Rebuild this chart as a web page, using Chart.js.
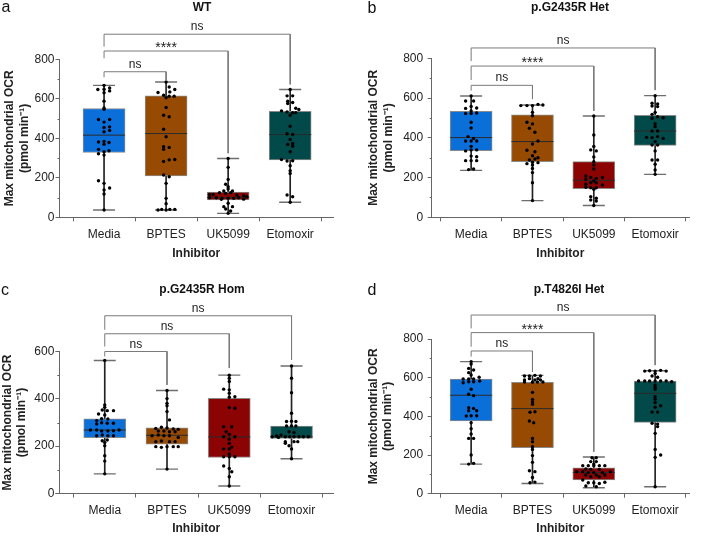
<!DOCTYPE html>
<html><head><meta charset="utf-8">
<script src="https://cdn.jsdelivr.net/npm/chart.js@4.4.1/dist/chart.umd.min.js"></script>
<style>
html,body{margin:0;padding:0;background:#fff;}
#wrap{position:relative;width:711px;height:537px;overflow:hidden;font-family:"Liberation Sans",Arial,sans-serif;}
canvas{position:absolute;}
.lbl{position:absolute;transform:translate(-50%,-50%);white-space:nowrap;line-height:1;color:#111;}
.letter{font-size:16px;}
.ttl{font-size:12px;font-weight:bold;}
</style></head><body>
<div id="wrap">
<canvas id="ca" width="355" height="268" style="left:0;top:0"></canvas>
<canvas id="cb" width="356" height="268" style="left:355px;top:0"></canvas>
<canvas id="cc" width="355" height="269" style="left:0;top:268px"></canvas>
<canvas id="cd" width="356" height="269" style="left:355px;top:268px"></canvas>
<div class="lbl letter" style="left:6px;top:7px">a</div>
<div class="lbl ttl" style="left:202px;top:7px">WT</div>
<div class="lbl letter" style="left:372px;top:8px">b</div>
<div class="lbl ttl" style="left:570px;top:7px">p.G2435R Het</div>
<div class="lbl letter" style="left:5px;top:290px">c</div>
<div class="lbl ttl" style="left:202px;top:289px">p.G2435R Hom</div>
<div class="lbl letter" style="left:372px;top:290px">d</div>
<div class="lbl ttl" style="left:569px;top:289px">p.T4826I Het</div>
</div>
<script>
// ---------- data ----------
const categories = ['Media', 'BPTES', 'UK5099', 'Etomoxir'];
const boxColors = ['#0a6fd9', '#974b02', '#8c0303', '#024a4a'];
const yTicks800 = [0, 200, 400, 600, 800];
const yTicks600 = [0, 200, 400, 600];

// panel a : WT   (points as [jitter, value])
const wtMin = [37, 37, 20, 76];
const wtQ1  = [328, 210, 88, 291];
const wtMed = [416, 424, 101, 419];
const wtQ3  = [551, 615, 128, 537];
const wtMax = [668, 685, 298, 647];
const wtPoints = [
  [[0,668],[-0.10,647],[0,648],[0.09,655],[0.09,640],[0,631],[0,588],[0,554],[0,547],[-0.09,495],[0.09,495],[0,482],[0.09,458],[0,455],[0.09,440],[0,433],[-0.09,381],[0,384],[0.08,379],[0,370],[-0.09,344],[0.08,337],[0,332],[-0.09,322],[0,315],[-0.09,185],[0,172],[0.09,148],[0,138],[0,118],[0,37]],
  [[0,685],[0.05,660],[0.14,647],[-0.13,632],[0.06,635],[-0.04,618],[0.05,613],[0.13,613],[0,605],[0,556],[-0.04,517],[0.05,509],[-0.04,446],[0,408],[-0.04,357],[0.05,354],[-0.04,344],[-0.04,283],[0.05,291],[0.14,293],[-0.04,214],[0.05,205],[0,172],[0,96],[0,69],[-0.13,37],[-0.07,40],[0,37],[0.06,40],[0.14,40]],
  [[0,298],[0,253],[0,192],[-0.04,167],[0,155],[-0.07,133],[0,143],[0.07,133],[-0.30,116],[-0.24,116],[-0.14,124],[-0.04,121],[0.04,124],[0.14,113],[0.25,109],[0.30,104],[-0.30,99],[-0.19,99],[-0.10,96],[0,96],[0.09,96],[0.17,99],[0.25,92],[-0.11,91],[0,71],[-0.07,54],[0.07,54],[-0.04,42],[0.04,32],[0,20]],
  [[0,647],[-0.05,615],[0.04,615],[-0.04,588],[-0.04,576],[0.04,581],[0.09,552],[0.14,546],[-0.14,539],[-0.05,534],[0.04,530],[0.09,530],[0,517],[0,461],[-0.05,423],[0.04,419],[0,394],[0.04,374],[-0.04,369],[0.04,360],[0,332],[-0.14,293],[-0.05,285],[0.04,286],[0,261],[0,236],[0,222],[-0.05,113],[0.04,104],[0,76]]
];
const wtBrackets = [[1,2,737,709,690,'ns'],[1,3,842,805,324,'****'],[1,4,927,864,673,'ns']];

// panel b : p.G2435R Het
const hetMin = [236, 84, 59, 216];
const hetQ1  = [335, 280, 144, 362];
const hetMed = [401, 381, 186, 434];
const hetQ3  = [533, 515, 280, 513];
const hetMax = [610, 565, 510, 612];
const hetPoints = [
  [[0,610],[-0.09,585],[0.04,585],[0,558],[-0.09,548],[0.09,550],[0,535],[0,522],[-0.09,522],[0.09,525],[0,478],[0,449],[-0.05,406],[0.04,397],[-0.09,384],[0,384],[0.09,384],[0,357],[-0.09,334],[0,339],[0.09,339],[0,308],[-0.09,285],[0,285],[0.09,285],[0.09,305],[-0.04,240],[0.04,243]],
  [[-0.19,562],[-0.09,562],[0,562],[0.09,568],[0.17,565],[0,528],[0,511],[-0.09,478],[0,470],[-0.05,448],[0.04,428],[0.09,384],[0,369],[-0.09,337],[0.04,330],[0,310],[0.09,300],[-0.05,288],[0,277],[0.09,275],[-0.09,270],[0,263],[0,225],[0,174],[0,84],[0,246],[0.04,293]],
  [[0,510],[0,414],[0,356],[-0.05,339],[0.04,334],[0,304],[0,280],[0,263],[0,243],[-0.13,208],[-0.05,201],[-0.13,191],[0.04,196],[0.14,200],[0,183],[-0.05,174],[0.04,174],[-0.13,166],[0.14,163],[-0.05,149],[0.04,149],[-0.13,151],[0,141],[-0.05,104],[0.04,96],[-0.05,87],[0.04,82],[0,59]],
  [[0,612],[-0.05,574],[0.04,570],[-0.05,560],[0.04,557],[-0.05,518],[0,528],[0.04,506],[0.13,501],[-0.05,498],[0,471],[0,456],[-0.05,434],[0.04,434],[-0.14,402],[-0.05,401],[0.04,406],[0.13,397],[0,381],[-0.05,364],[0.04,364],[0,334],[-0.05,288],[0.04,288],[0,267],[0,238],[0,216]]
];
const hetBrackets = [[1,2,664,637,595,'ns'],[1,3,761,691,535,'****'],[1,4,852,786,640,'ns']];

// panel c : p.G2435R Hom
const homMin = [83, 103, 32, 147];
const homQ1  = [236, 208, 152, 233];
const homMed = [268, 246, 239, 240];
const homQ3  = [315, 277, 402, 285];
const homMax = [562, 435, 500, 539];
const homPoints = [
  [[0,562],[0,374],[0,364],[-0.04,353],[0.04,350],[0.14,350],[-0.10,336],[0,332],[-0.05,316],[0.05,315],[-0.13,308],[-0.05,299],[0.04,297],[0.14,297],[-0.13,294],[-0.23,268],[-0.13,268],[-0.05,264],[0.05,264],[0.14,265],[0.23,268],[-0.13,244],[-0.04,247],[0.05,244],[0.14,244],[-0.04,223],[0.04,226],[0,215],[0,202],[0,160],[0,137],[0,83]],
  [[0,435],[0,401],[0,381],[0,371],[0,346],[0.04,311],[-0.18,275],[-0.09,280],[0,277],[0.10,273],[0.18,271],[-0.14,264],[-0.05,264],[0.04,261],[0.13,261],[-0.24,244],[-0.14,247],[-0.05,244],[0.04,244],[0.18,237],[-0.18,219],[-0.09,222],[0.04,219],[0.13,219],[-0.18,198],[-0.09,195],[0,198],[0.10,198],[0.18,198],[0,103]],
  [[0,500],[0,487],[0,473],[-0.09,441],[0,438],[0,424],[0.09,409],[0,407],[0,363],[0.09,360],[-0.09,282],[0.04,282],[-0.05,261],[0,250],[-0.09,240],[0.09,240],[0,229],[0,212],[0.04,196],[-0.09,188],[0,188],[0,167],[0,155],[-0.09,155],[0.09,155],[-0.09,116],[0,106],[0.04,92],[0,71],[0,32]],
  [[0,539],[0,487],[0,426],[0,339],[-0.08,304],[0,305],[0.07,304],[-0.08,285],[0,285],[0.07,285],[-0.04,261],[0.04,258],[-0.31,240],[-0.24,243],[-0.17,247],[-0.10,240],[-0.03,240],[0.04,240],[0.12,240],[0.19,240],[0.27,240],[-0.21,237],[-0.10,219],[0.04,219],[0.10,219],[-0.04,202],[-0.10,212],[0,188],[0,147]]
];
const homBrackets = [[1,2,600,579,459,'ns'],[1,3,675,621,530,'ns'],[1,4,751,692,565,'ns']];

// panel d : p.T4826I Het
const t48Min = [153, 53, 31, 36];
const t48Q1  = [376, 238, 71, 369];
const t48Med = [509, 440, 110, 519];
const t48Q3  = [593, 576, 134, 583];
const t48Max = [683, 612, 190, 636];
const t48Points = [
  [[0,683],[0,671],[-0.04,648],[0.04,640],[-0.04,626],[0,614],[-0.13,593],[-0.04,593],[0.04,593],[0.13,602],[-0.13,574],[-0.04,579],[0.04,579],[0.14,583],[0,540],[-0.04,514],[0.04,507],[-0.04,445],[0.04,441],[-0.04,429],[0.09,429],[-0.08,402],[0,403],[0.09,403],[0,367],[0,336],[0,309],[-0.04,286],[0.04,286],[0,200],[-0.04,153],[0.04,157]],
  [[-0.13,609],[-0.05,609],[0.04,612],[0.13,609],[-0.05,595],[0.09,595],[-0.13,588],[0.04,588],[0.13,588],[0,576],[-0.13,578],[0.08,578],[0.17,578],[0,524],[0,488],[0,476],[0,462],[-0.04,421],[0.04,424],[-0.05,376],[0.02,367],[0,286],[0,269],[0,243],[0,229],[0,197],[0,162],[-0.05,119],[0.04,114],[0,84],[-0.04,57],[0.04,60]],
  [[-0.03,186],[0.04,186],[-0.05,166],[0.04,166],[0,153],[-0.18,145],[-0.09,145],[0,145],[0.09,145],[0.18,145],[-0.13,128],[-0.05,126],[0.09,126],[-0.28,114],[-0.18,114],[-0.09,109],[0,110],[0.14,109],[0.27,114],[-0.13,97],[0.04,97],[-0.05,88],[0.09,88],[0.18,97],[-0.18,71],[-0.09,57],[0,57],[0.09,53],[0.18,59],[-0.13,40],[0.04,36]],
  [[-0.17,634],[-0.09,636],[0,634],[0.09,638],[0.18,634],[0,622],[-0.05,609],[0.04,602],[-0.27,583],[-0.17,583],[-0.09,583],[0,583],[0.09,583],[0.18,583],[0.27,579],[0,562],[0,550],[0,540],[0,502],[0,488],[0,471],[0.09,455],[0,447],[-0.05,422],[0.04,422],[-0.05,364],[0.04,360],[0.04,347],[0,312],[0,229],[0.09,200],[0,188],[0,36]]
];
const t48Brackets = [[1,2,738,709,630,'ns'],[1,3,833,760,217,'****'],[1,4,924,855,665,'ns']];

// ---------- rendering ----------
const FONT = '"Liberation Sans", Arial, Helvetica, sans-serif';
Chart.defaults.font.family = FONT;
Chart.defaults.font.size = 12;
Chart.defaults.color = '#222';

const extras = {
  id: 'extras',
  afterDatasetsDraw(chart, args, opts) {
    const {ctx, scales: {x, y}} = chart;
    ctx.save();
    ctx.strokeStyle = '#666';
    ctx.lineWidth = 1;
    const t = opts.yTicks;
    for (let i = 0; i < t.length - 1; i++) {
      const py = Math.round(y.getPixelForValue((t[i] + t[i + 1]) / 2)) + 0.5;
      ctx.beginPath(); ctx.moveTo(x.left - 2, py); ctx.lineTo(x.left, py); ctx.stroke();
    }
    ctx.fillStyle = '#222';
    ctx.textAlign = 'center';
    ctx.textBaseline = 'alphabetic';
    for (const b of opts.brackets) {
      const px = (x.getPixelForValue(b[0]) + x.getPixelForValue(b[1])) / 2;
      const py = y.getPixelForValue(b[2]);
      const star = b[5].startsWith('*');
      ctx.font = (star ? '14px ' : '12px ') + FONT;
      ctx.fillText(b[5], px, py - (star ? -1 : 4));
    }
    ctx.restore();
  }
};

function makePanel(id, d, L) {
  const idx = categories.map((c, i) => i + 1);
  const datasets = [];
  datasets.push({
    type: 'bar', order: 5, grouped: false, barThickness: 42,
    data: idx.map((x, i) => ({x, y: [d.q1[i], d.q3[i]]})),
    backgroundColor: boxColors, borderColor: '#8a8a8a', borderWidth: 1, borderSkipped: false
  });
  datasets.push({
    type: 'bar', order: 6, grouped: false, barThickness: 1,
    data: idx.map((x, i) => ({x, y: [d.min[i], d.q1[i]]})),
    backgroundColor: '#222', borderWidth: 0
  });
  datasets.push({
    type: 'bar', order: 6, grouped: false, barThickness: 1,
    data: idx.map((x, i) => ({x, y: [d.q3[i], d.max[i]]})),
    backgroundColor: '#222', borderWidth: 0
  });
  datasets.push({
    type: 'scatter', order: 3,
    data: idx.flatMap((x, i) => [{x, y: d.min[i]}, {x, y: d.max[i]}]),
    pointStyle: 'line', pointRadius: 11, borderColor: '#6e6e6e', borderWidth: 1.4, backgroundColor: '#6e6e6e'
  });
  datasets.push({
    type: 'scatter', order: 2,
    data: idx.map((x, i) => ({x, y: d.med[i]})),
    pointStyle: 'line', pointRadius: 21, borderColor: '#2a2a2a', borderWidth: 1, backgroundColor: '#2a2a2a'
  });
  datasets.push({
    type: 'scatter', order: 1,
    data: d.pts.flatMap((arr, i) => arr.map(p => ({x: i + 1 + p[0], y: p[1]}))),
    pointRadius: 1.7, backgroundColor: '#000', borderWidth: 0
  });
  for (const b of d.brackets) {
    datasets.push({
      type: 'line', order: 0, clip: false,
      data: [{x: b[0], y: b[3]}, {x: b[0], y: b[2]}, {x: b[1], y: b[2]}, {x: b[1], y: b[4]}],
      borderColor: '#7a7a7a', borderWidth: 1, pointRadius: 0, tension: 0, fill: false
    });
  }
  const yMax = d.yTicks[d.yTicks.length - 1];
  new Chart(document.getElementById(id), {
    type: 'bar',
    data: {datasets},
    plugins: [extras],
    options: {
      responsive: false, animation: false, events: [],
      layout: {padding: {top: L.top, right: L.right, bottom: 0, left: 0}},
      plugins: {legend: {display: false}, tooltip: {enabled: false}, extras: {yTicks: d.yTicks, brackets: d.brackets}},
      scales: {
        x: {
          type: 'linear', min: L.xMin, max: L.xMax, offset: false,
          afterBuildTicks: s => { s.ticks = idx.map(v => ({value: v})); },
          afterFit: s => { s.height = L.xH; },
          ticks: {callback: v => categories[v - 1], autoSkip: false, maxRotation: 0, padding: 6, font: {size: 12}, color: '#222'},
          grid: {drawOnChartArea: false, drawTicks: true, tickLength: 4, color: '#666', tickColor: '#666'},
          border: {display: true, color: '#666', width: 1},
          title: {display: true, text: 'Inhibitor', font: {size: 12, weight: 'bold'}, color: '#222', padding: {top: 0, bottom: L.xTitlePad}}
        },
        y: {
          type: 'linear', min: 0, max: yMax,
          afterBuildTicks: s => { s.ticks = d.yTicks.map(v => ({value: v})); },
          afterFit: s => { s.width = L.yW; },
          ticks: {padding: L.yTickPad, font: {size: 12}, color: '#222'},
          grid: {drawOnChartArea: false, drawTicks: true, tickLength: 4, color: '#666', tickColor: '#666'},
          border: {display: true, color: '#666', width: 1},
          title: {display: true, text: ['Max mitochondrial OCR', '(pmol min\u207B\u00B9)'], font: {size: 12, weight: 'bold', lineHeight: 1.2}, color: '#222', padding: {top: L.yTitlePad, bottom: 0}}
        }
      }
    }
  });
}

makePanel('ca', {min: wtMin, q1: wtQ1, med: wtMed, q3: wtQ3, max: wtMax, pts: wtPoints, brackets: wtBrackets, yTicks: yTicks800},
  {top: 59.3, right: 10, xH: 50.7, yW: 59.5, xMin: 0.282, xMax: 4.69, xTitlePad: 7.6, yTitlePad: 2.8, yTickPad: 1});
makePanel('cb', {min: hetMin, q1: hetQ1, med: hetMed, q3: hetQ3, max: hetMax, pts: hetPoints, brackets: hetBrackets, yTicks: yTicks800},
  {top: 58.3, right: 8, xH: 50.7, yW: 76.7, xMin: 0.357, xMax: 4.552, xTitlePad: 7.6, yTitlePad: 11.8, yTickPad: 4.5});
makePanel('cc', {min: homMin, q1: homQ1, med: homMed, q3: homQ3, max: homMax, pts: homPoints, brackets: homBrackets, yTicks: yTicks600},
  {top: 83.5, right: 10, xH: 43.5, yW: 59.3, xMin: 0.27, xMax: 4.666, xTitlePad: 1.5, yTitlePad: 0.5, yTickPad: 1});
makePanel('cd', {min: t48Min, q1: t48Q1, med: t48Med, q3: t48Q3, max: t48Max, pts: t48Points, brackets: t48Brackets, yTicks: yTicks800},
  {top: 71, right: 8, xH: 43.3, yW: 76.7, xMin: 0.357, xMax: 4.552, xTitlePad: 1.5, yTitlePad: 11.5, yTickPad: 4.5});
</script>
</body></html>
